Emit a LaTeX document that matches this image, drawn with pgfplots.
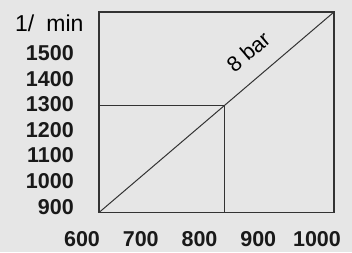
\documentclass[border=0pt]{standalone}
\usepackage{fontspec}
\setmainfont{Liberation Sans}
\usepackage{pgfplots}
\pgfplotsset{compat=1.18}
\definecolor{bg}{HTML}{E6E6E6}
\definecolor{ln}{HTML}{333333}
\begin{document}
\fontsize{22}{26}\selectfont
\begin{tikzpicture}[x=1pt,y=1pt]
\fill[bg] (0,0) rectangle (352,252);
\begin{axis}[at={(99pt,39.5pt)}, anchor=south west, width=235pt, height=200.5pt, scale only axis,
 xmin=600,xmax=1000, ymin=900, ymax=1684,
 xtick={600,700,800,900,1000}, ytick={900,1000,...,1500},
 major tick length=0pt,
 axis line style={ln, line width=1.2pt},
 tick label style={font=\fontsize{21.5}{25}\selectfont\bfseries, text=black!90},
 xticklabel style={anchor=center, xshift=-17pt, yshift=-26.5pt, inner sep=0pt},
 yticklabel style={anchor=east, xshift=-25pt, yshift=5.8pt, inner sep=0pt},
 /pgf/number format/assume math mode=true,
 /pgf/number format/1000 sep={},
 tick style={draw=none},
 clip=false]
\addplot[ln, line width=1pt] coordinates {(600,900) (1000,1684)};
\addplot[ln, line width=1pt] coordinates {(600,1318) (814,1318) (814,900)};
\node[rotate=40.47, inner sep=0pt, font=\fontsize{21.5}{25}\selectfont] at (axis cs:854,1529) {8 bar};
\end{axis}
\node[anchor=west, inner sep=0pt, font=\fontsize{23}{27}\selectfont] at (15,228.7) {1/\hspace{12pt}min};
\end{tikzpicture}
\end{document}
